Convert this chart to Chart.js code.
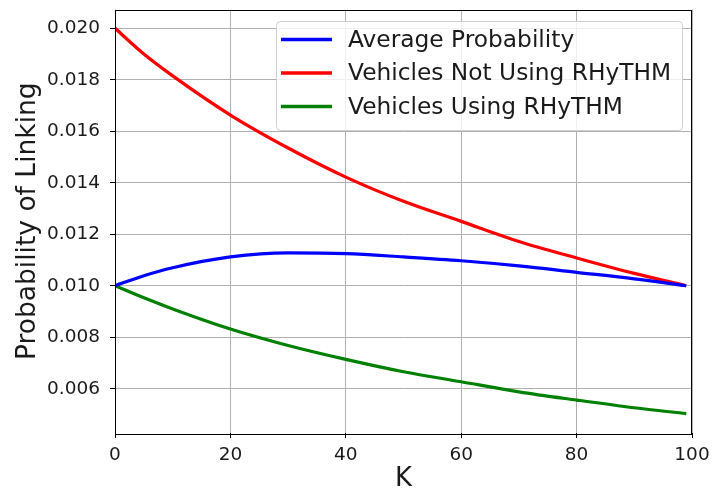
<!DOCTYPE html>
<html>
<head>
<meta charset="utf-8">
<script src="https://cdn.jsdelivr.net/npm/chart.js@4/dist/chart.umd.min.js"></script>
<style>
    html, body { margin: 0; padding: 0; background: #fff; }
    #wrap { width: 712px; height: 489px; }
</style>
</head>
<body>
<div id="wrap"><canvas id="LinkingGraph" width="712" height="489"></canvas></div>
<script>
const kValues = [0, 5, 10, 20, 30, 40, 50, 60, 70, 80, 90, 99];
const averageProbability = [0.0100, 0.01039, 0.0107, 0.01112, 0.01128, 0.01125, 0.01112, 0.01097, 0.01077, 0.01052, 0.01027, 0.0100];
const notUsingRhythm = [0.0200, 0.0190, 0.01815, 0.01663, 0.01535, 0.01422, 0.01328, 0.01250, 0.01172, 0.01108, 0.01048, 0.0100];
const usingRhythm = [0.0100, 0.00953, 0.0091, 0.00832, 0.00768, 0.00714, 0.00666, 0.00627, 0.00588, 0.00556, 0.00526, 0.00503];
const xTicks = [0, 20, 40, 60, 80, 100];
const yTicks = [0.006, 0.008, 0.010, 0.012, 0.014, 0.016, 0.018, 0.020];

const seriesLabels = ["Average Probability", "Vehicles Not Using RHyTHM", "Vehicles Using RHyTHM"];
const seriesColors = ["#0000ff", "#ff0000", "#008000"];

const fontFamily = "'DejaVu Sans', sans-serif";

function toPoints(values) {
    return kValues.map((k, i) => ({ x: k, y: values[i] }));
}

function makeDataset(index, values) {
    return {
        label: seriesLabels[index],
        data: toPoints(values),
        borderColor: seriesColors[index],
        backgroundColor: seriesColors[index],
        borderWidth: 3.2,
        pointRadius: 0,
        cubicInterpolationMode: "monotone",
        fill: false
    };
}

// white page, black frame and an in-plot legend like matplotlib's
const framePlugin = {
    id: "frame",
    beforeDraw(chart) {
        const ctx = chart.ctx;
        ctx.save();
        ctx.fillStyle = "#fff";
        ctx.fillRect(0, 0, chart.width, chart.height);
        ctx.restore();
    },
    afterDatasetsDraw(chart) {
        const ctx = chart.ctx;
        const a = chart.chartArea;
        ctx.save();
        ctx.strokeStyle = "#000";
        ctx.lineWidth = 1;
        ctx.strokeRect(Math.round(a.left) + 0.5, Math.round(a.top) + 0.5,
            Math.round(a.right - a.left) - 1, Math.round(a.bottom - a.top));

        // legend box
        const boxX = 276, boxY = 21, boxW = 406, boxH = 109;
        ctx.beginPath();
        ctx.roundRect(boxX + 0.5, boxY + 0.5, boxW, boxH, 4);
        ctx.fillStyle = "rgba(255,255,255,0.8)";
        ctx.fill();
        ctx.strokeStyle = "#d0d0d0";
        ctx.stroke();

        ctx.font = "23.3px " + fontFamily;
        ctx.textBaseline = "middle";
        ctx.textAlign = "left";
        const rows = [39.5, 73, 106.5];
        chart.data.datasets.forEach((ds, i) => {
            ctx.beginPath();
            ctx.moveTo(281, rows[i]);
            ctx.lineTo(332, rows[i]);
            ctx.strokeStyle = ds.borderColor;
            ctx.lineWidth = 3.5;
            ctx.stroke();
            ctx.fillStyle = "#1a1a1a";
            ctx.fillText(ds.label, 348, rows[i] + 1);
        });
        ctx.restore();
    }
};

function createChart(context) {
    return new Chart(context, {
        type: "line",
        data: {
            datasets: [
                makeDataset(0, averageProbability),
                makeDataset(1, notUsingRhythm),
                makeDataset(2, usingRhythm)
            ]
        },
        options: {
            responsive: false,
            animation: false,
            layout: { padding: { top: 9.5, right: 20, left: 0, bottom: 0 } },
            plugins: {
                legend: { display: false },
                tooltip: { enabled: false }
            },
            scales: {
                x: {
                    type: "linear",
                    min: 0,
                    max: 100,
                    afterBuildTicks: axis => { axis.ticks = xTicks.map(v => ({ value: v })); },
                    afterFit: scale => {
                        scale.height = 56;
                        scale.paddingLeft = 0;
                        scale.paddingRight = 0;
                    },
                    grid: { color: "#b0b0b0", tickColor: "#000", tickLength: 5, lineWidth: 1 },
                    border: { display: false },
                    ticks: { color: "#1a1a1a", font: { family: fontFamily, size: 18.5 }, padding: 6, maxRotation: 0 },
                    title: {
                        display: true,
                        text: "K",
                        color: "#1a1a1a",
                        font: { family: fontFamily, size: 26, lineHeight: 1 },
                        padding: { top: 0, bottom: -3 }
                    }
                },
                y: {
                    type: "linear",
                    min: 0.00428,
                    max: 0.02073,
                    afterBuildTicks: axis => { axis.ticks = yTicks.map(v => ({ value: v })); },
                    afterFit: scale => {
                        scale.width = 115;
                        scale.paddingTop = 0;
                        scale.paddingBottom = 0;
                    },
                    grid: { color: "#b0b0b0", tickColor: "#000", tickLength: 5, lineWidth: 1 },
                    border: { display: false },
                    ticks: {
                        color: "#1a1a1a",
                        font: { family: fontFamily, size: 18.5 },
                        padding: 10,
                        callback: v => v.toFixed(3)
                    },
                    title: {
                        display: true,
                        text: "Probability of Linking",
                        color: "#1a1a1a",
                        font: { family: fontFamily, size: 26.5 },
                        padding: { top: 12, bottom: 0 }
                    }
                }
            }
        },
        plugins: [framePlugin]
    });
}

createChart(document.getElementById("LinkingGraph").getContext("2d"));
</script>
</body>
</html>
